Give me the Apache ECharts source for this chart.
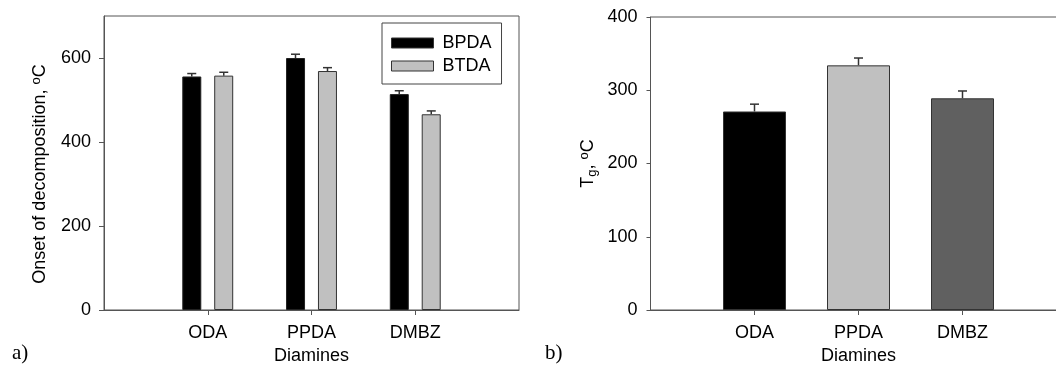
<!DOCTYPE html>
<html><head><meta charset="utf-8">
<script src="https://cdn.jsdelivr.net/npm/echarts@6/dist/echarts.min.js"></script>
<style>html,body{margin:0;padding:0;background:#fff}#c{width:1056px;height:365px}</style>
</head><body><div id="c"></div>
<script>
// ---- data ----
const categories = ['', 'ODA', 'PPDA', 'DMBZ', ''];
const seriesNames = ['BPDA', 'BTDA'];
const onsetBPDA = [null, 556, 600, 514, null];
const onsetBTDA = [null, 558, 569, 466, null];
const onsetBPDAErr = [null, 7, 9, 8, null];
const onsetBTDAErr = [null, 8, 8, 8, null];
const tgValues = [null, 271, 334, 289, null];
const tgErr = [null, 10, 10, 10, null];
const onsetTicks = [0, 200, 400, 600];
const tgTicks = [0, 100, 200, 300, 400];
// ---- styles ----
const tgColors = [null, '#000000', '#c0c0c0', '#606060', null];
const axisColor = '#555';
const font = 'Liberation Sans, Arial, sans-serif';
const FS = 18;

function errData(vals, errs) {
  const out = [];
  vals.forEach((v, i) => { if (v != null) out.push([i, v, errs[i]]); });
  return out;
}
function errRender(offset, halfCap) {
  return function (params, api) {
    const i = api.value(0), v = api.value(1), e = api.value(2);
    const top = api.coord([i, v + e]);
    const base = api.coord([i, v]);
    const x = top[0] + offset;
    const st = { stroke: '#333', lineWidth: 1.5 };
    return { type: 'group', children: [
      { type: 'line', shape: { x1: x, y1: base[1], x2: x, y2: top[1] }, style: st },
      { type: 'line', shape: { x1: x - halfCap, y1: top[1], x2: x + halfCap, y2: top[1] }, style: st }
    ]};
  };
}

const chart = echarts.init(document.getElementById('c'), null, { renderer: 'canvas' });
const labelStyle = { color: '#000', fontSize: FS, fontFamily: font };
function xAxis(gridIndex) {
  return {
    type: 'category', gridIndex, data: categories, boundaryGap: false,
    axisLine: { lineStyle: { color: axisColor, width: 1 } },
    axisTick: { length: 5, lineStyle: { color: axisColor }, interval: (idx) => idx > 0 && idx < categories.length - 1 },
    axisLabel: Object.assign({ margin: 14, interval: 0 }, labelStyle),
    name: 'Diamines', nameLocation: 'middle', nameGap: 36,
    nameTextStyle: { color: '#000', fontSize: FS, fontFamily: font },
    splitLine: { show: false }
  };
}
chart.setOption({
  animation: false,
  textStyle: { fontFamily: font },
  grid: [
    { left: 104, top: 16, width: 415, height: 294, show: true, borderColor: axisColor, borderWidth: 1, backgroundColor: 'transparent', outerBoundsMode: 'none', containLabel: false },
    { left: 650.5, top: 17, width: 416, height: 293, show: true, borderColor: axisColor, borderWidth: 1, backgroundColor: 'transparent', outerBoundsMode: 'none', containLabel: false }
  ],
  legend: {
    data: seriesNames, orient: 'vertical', left: 382, top: 23, width: 100,
    padding: [10, 10, 8, 9], itemGap: 3, itemWidth: 42, itemHeight: 10, icon: 'rect',
    borderColor: '#444', borderWidth: 1, borderRadius: 0,
    itemStyle: { borderColor: '#333', borderWidth: 1 },
    textStyle: { color: '#000', fontSize: FS, fontFamily: font, lineHeight: 20, padding: [0, 0, 0, 4] }
  },
  xAxis: [xAxis(0), xAxis(1)],
  yAxis: [
    { type: 'value', gridIndex: 0, min: 0, max: 700,
      axisLine: { show: true, lineStyle: { color: axisColor } },
      axisTick: { show: true, length: 5, lineStyle: { color: axisColor }, customValues: onsetTicks },
      axisLabel: Object.assign({ margin: 13, customValues: onsetTicks }, labelStyle),
      splitLine: { show: false },
      name: 'Onset of decomposition, {sup|o}C', nameLocation: 'middle', nameGap: 53,
      nameTextStyle: { color: '#000', fontSize: FS, fontFamily: font, padding: [0, 22, 0, 0],
        rich: { sup: { fontSize: 13, verticalAlign: 'top', padding: [0, 0, 8, 0], color: '#000', fontFamily: font } } }
    },
    { type: 'value', gridIndex: 1, min: 0, max: 400, interval: 100,
      axisLine: { show: true, lineStyle: { color: axisColor } },
      axisTick: { show: true, length: 4, lineStyle: { color: axisColor } },
      axisLabel: Object.assign({ margin: 13, customValues: tgTicks }, labelStyle),
      splitLine: { show: false },
      name: 'T{sub|g}, {sup|o}C', nameLocation: 'middle', nameGap: 52,
      nameTextStyle: { color: '#000', fontSize: FS, fontFamily: font,
        rich: { sup: { fontSize: 13, padding: [0, 0, 8, 0], color: '#000', fontFamily: font },
                sub: { fontSize: 13, padding: [8, 0, 0, 0], color: '#000', fontFamily: font } } }
    }
  ],
  series: [
    { name: 'BPDA', type: 'bar', xAxisIndex: 0, yAxisIndex: 0, data: onsetBPDA, barWidth: 19, barGap: '68%',
      itemStyle: { color: '#000', borderColor: '#222', borderWidth: 1 } },
    { name: 'BTDA', type: 'bar', xAxisIndex: 0, yAxisIndex: 0, data: onsetBTDA, barWidth: 19, barGap: '68%',
      itemStyle: { color: '#c0c0c0', borderColor: '#333', borderWidth: 1 } },
    { type: 'custom', xAxisIndex: 0, yAxisIndex: 0, data: errData(onsetBPDA, onsetBPDAErr),
      renderItem: errRender(-16, 4.5), encode: { x: 0, y: 1 }, z: 1 },
    { type: 'custom', xAxisIndex: 0, yAxisIndex: 0, data: errData(onsetBTDA, onsetBTDAErr),
      renderItem: errRender(16, 4.5), encode: { x: 0, y: 1 }, z: 1 },
    { name: 'Tg', type: 'bar', xAxisIndex: 1, yAxisIndex: 1, barWidth: 63,
      data: tgValues.map((v, i) => v == null ? '-' : { value: v, itemStyle: { color: tgColors[i] } }),
      itemStyle: { borderColor: '#333', borderWidth: 1 } },
    { type: 'custom', xAxisIndex: 1, yAxisIndex: 1, data: errData(tgValues, tgErr),
      renderItem: errRender(0, 4.5), encode: { x: 0, y: 1 }, z: 1 }
  ],
  graphic: [
    { type: 'text', left: 12, top: 343, style: { text: 'a)', fontSize: 21, fontFamily: 'Liberation Serif, Times New Roman, serif', fill: '#000' } },
    { type: 'text', left: 545, top: 343, style: { text: 'b)', fontSize: 21, fontFamily: 'Liberation Serif, Times New Roman, serif', fill: '#000' } }
  ]
});
</script></body></html>
